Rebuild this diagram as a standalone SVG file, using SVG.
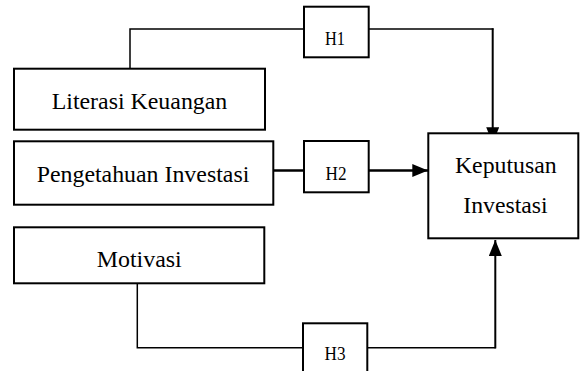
<svg xmlns="http://www.w3.org/2000/svg" width="580" height="371" viewBox="0 0 580 371">
<style>
.box{fill:#fff;stroke:#000;stroke-width:2}
.lbl{font-size:23.5px;fill:#000;text-anchor:middle}
.h{font-size:18px;fill:#000;text-anchor:middle}
.ln{fill:none;stroke:#000}
</style>
<defs>
<marker id="arr" markerUnits="userSpaceOnUse" markerWidth="16" markerHeight="13" refX="16" refY="6.5" orient="auto">
<path d="M0,0 L16,6.5 L0,13 z" fill="#000"/>
</marker>
</defs>
<rect width="580" height="371" fill="#fff"/>
<g id="connectors">
<polyline class="ln" stroke-width="1.5" points="130,68.7 130,29 304,29"/>
<polyline class="ln" stroke-width="1.5" points="368.7,29 493.5,29"/>
<line class="ln" stroke-width="2" x1="492.7" y1="28.3" x2="492.7" y2="143.3" marker-end="url(#arr)"/>
<line class="ln" stroke-width="2.5" x1="273.3" y1="170.5" x2="304" y2="170.5"/>
<line class="ln" stroke-width="2.5" x1="368.7" y1="170.5" x2="428.3" y2="170.5" marker-end="url(#arr)"/>
<polyline class="ln" stroke-width="1.5" points="137.3,283.3 137.3,347.7 303,347.7"/>
<polyline class="ln" stroke-width="1.5" points="367.3,347.7 495.8,347.7"/>
<line class="ln" stroke-width="2" x1="495.3" y1="348.4" x2="495.3" y2="240" marker-end="url(#arr)"/>
</g>
<g font-family="'Liberation Serif', 'Times New Roman', 'DejaVu Serif', serif">
<g id="literasi">
<rect class="box" x="14" y="68.7" width="251" height="61"/>
<text class="lbl" x="139.5" y="108.7" textLength="175.6" lengthAdjust="spacingAndGlyphs">Literasi Keuangan</text>
</g>
<g id="pengetahuan">
<rect class="box" x="14" y="141.3" width="259.3" height="63.4"/>
<text class="lbl" x="143" y="182" textLength="212.6" lengthAdjust="spacingAndGlyphs">Pengetahuan Investasi</text>
</g>
<g id="motivasi">
<rect class="box" x="14" y="227.3" width="250.3" height="56"/>
<text class="lbl" x="139.2" y="266.7" textLength="85" lengthAdjust="spacingAndGlyphs">Motivasi</text>
</g>
<g id="keputusan">
<rect class="box" x="428.3" y="133.3" width="150" height="105"/>
<text class="lbl" x="505.8" y="173.3" textLength="101.7" lengthAdjust="spacingAndGlyphs">Keputusan</text>
<text class="lbl" x="505.5" y="213.3" textLength="84.4" lengthAdjust="spacingAndGlyphs">Investasi</text>
</g>
<g id="h1">
<rect class="box" x="304" y="6.7" width="64.7" height="50.6"/>
<text class="h" x="335" y="45" textLength="20" lengthAdjust="spacingAndGlyphs">H1</text>
</g>
<g id="h2">
<rect class="box" x="304" y="141" width="64.7" height="51.3"/>
<text class="h" x="336" y="180" textLength="21" lengthAdjust="spacingAndGlyphs">H2</text>
</g>
<g id="h3">
<rect class="box" x="303" y="323.3" width="64.3" height="50"/>
<text class="h" x="335" y="360" textLength="21" lengthAdjust="spacingAndGlyphs">H3</text>
</g>
</g>
</svg>
